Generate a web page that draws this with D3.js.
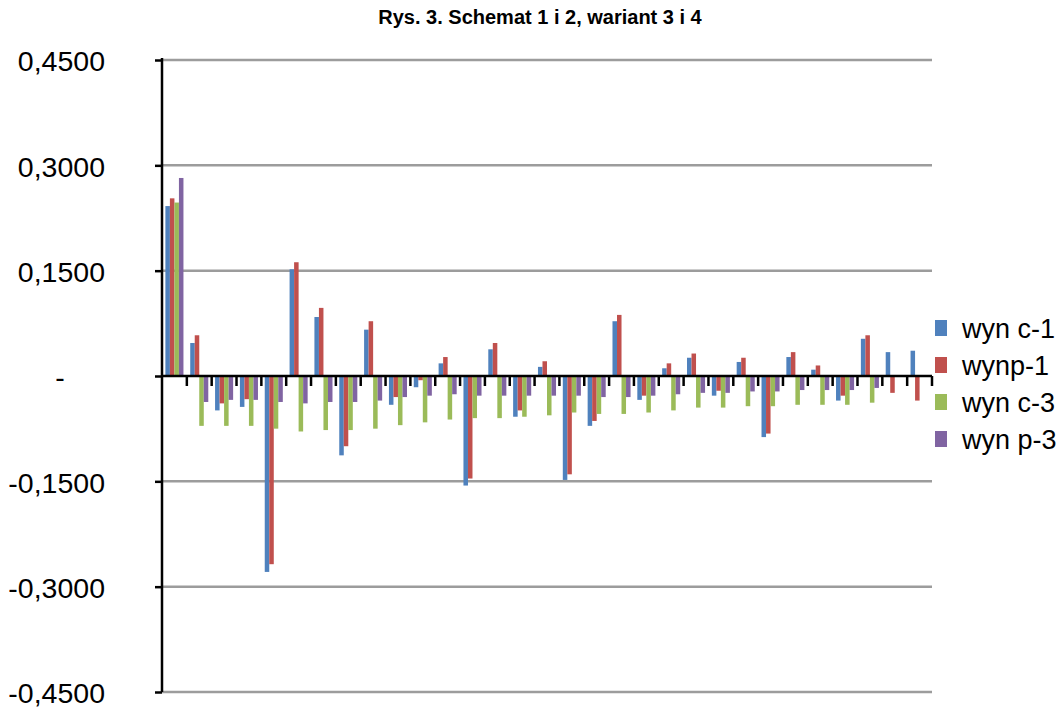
<!DOCTYPE html>
<html>
<head>
<meta charset="utf-8">
<script src="https://cdn.jsdelivr.net/npm/d3@7"></script>
<style>
  html, body { margin: 0; padding: 0; background: #fff; }
  svg { display: block; }
  text { font-family: "Liberation Sans", Arial, sans-serif; fill: #000; }
</style>
</head>
<body>
<svg id="chart" width="1064" height="709"></svg>
<script>
// Chart data
const title = "Rys. 3. Schemat 1 i 2, wariant 3 i 4";
const categories = ["1","2","3","4","5","6","7","8","9","10","11","12","13","14","15","16",
  "17","18","19","20","21","22","23","24","25","26","27","28","29","30","31"];
const seriesNames = ["wyn c-1", "wynp-1", "wyn c-3", "wyn p-3"];
const wynC1 = [0.242, 0.047, -0.049, -0.044, -0.279, 0.152, 0.084, -0.113, 0.066, -0.041,
  -0.016, 0.018, -0.156, 0.038, -0.058, 0.013, -0.148, -0.071, 0.078, -0.034,
  0.011, 0.026, -0.028, 0.020, -0.087, 0.027, 0.009, -0.035, 0.053, 0.034, 0.036];
const wynP1 = [0.253, 0.058, -0.039, -0.033, -0.268, 0.162, 0.097, -0.100, 0.078, -0.030,
  -0.006, 0.027, -0.146, 0.047, -0.049, 0.021, -0.140, -0.064, 0.087, -0.028,
  0.018, 0.032, -0.021, 0.026, -0.082, 0.034, 0.015, -0.028, 0.058, -0.024, -0.035];
const wynC3 = [0.247, -0.071, -0.071, -0.071, -0.075, -0.079, -0.077, -0.077, -0.075, -0.070,
  -0.066, -0.062, -0.060, -0.060, -0.058, -0.056, -0.052, -0.054, -0.054, -0.052,
  -0.049, -0.045, -0.045, -0.043, -0.043, -0.041, -0.041, -0.041, -0.038, null, null];
const wynP3 = [0.282, -0.037, -0.034, -0.034, -0.037, -0.039, -0.037, -0.037, -0.035, -0.030,
  -0.028, -0.026, -0.028, -0.028, -0.028, -0.028, -0.028, -0.030, -0.030, -0.028,
  -0.026, -0.024, -0.024, -0.022, -0.022, -0.020, -0.020, -0.020, -0.017, null, null];
const yTicks = [0.45, 0.30, 0.15, 0, -0.15, -0.30, -0.45];
const yTickLabels = ["0,4500", "0,3000", "0,1500", "-", "-0,1500", "-0,3000", "-0,4500"];
const colors = ["#4F81BD", "#C0504D", "#9BBB59", "#8064A2"];

const seriesValues = [wynC1, wynP1, wynC3, wynP3];

const svg = d3.select("#chart");
const plot = { left: 162, right: 932, top: 60, bottom: 692 };

const y = d3.scaleLinear().domain([-0.45, 0.45]).range([plot.bottom, plot.top]);
const gap = 1.5 / 5.5;
const x0 = d3.scaleBand().domain(categories).range([plot.left, plot.right])
  .paddingInner(gap).paddingOuter(gap / 2);
const x1 = d3.scaleBand().domain(seriesNames).range([0, x0.bandwidth()]);
const color = d3.scaleOrdinal().domain(seriesNames).range(colors);

// Title
svg.append("text")
  .attr("x", 540).attr("y", 24)
  .attr("text-anchor", "middle")
  .style("font-size", "20px").style("font-weight", "bold")
  .text(title);

// Horizontal gridlines
svg.append("g")
  .selectAll("line")
  .data(yTicks.filter(d => d !== 0))
  .join("line")
  .attr("x1", plot.left).attr("x2", plot.right)
  .attr("y1", d => y(d)).attr("y2", d => y(d))
  .attr("stroke", "#9c9c9c").attr("stroke-width", 2.5);

// Bars
const rows = categories.map((c, i) => ({
  cat: c,
  vals: seriesNames.map((s, k) => ({ key: s, value: seriesValues[k][i] }))
}));

svg.append("g")
  .selectAll("g")
  .data(rows)
  .join("g")
  .attr("transform", d => `translate(${x0(d.cat)},0)`)
  .selectAll("rect")
  .data(d => d.vals.filter(v => v.value !== null))
  .join("rect")
  .attr("x", d => x1(d.key))
  .attr("width", x1.bandwidth())
  .attr("y", d => y(Math.max(0, d.value)))
  .attr("height", d => Math.abs(y(d.value) - y(0)))
  .attr("fill", d => color(d.key));

// Y axis
const yAxis = d3.axisLeft(y)
  .tickValues(yTicks)
  .tickSize(7)
  .tickPadding(0)
  .tickFormat((d, i) => yTickLabels[i]);

const gy = svg.append("g")
  .attr("transform", `translate(${plot.left},0)`)
  .call(yAxis);
gy.select(".domain").attr("stroke", "#000").attr("stroke-width", 2.5)
  .attr("d", `M0,${plot.top - 2}V${plot.bottom}`);
gy.selectAll(".tick line").attr("stroke", "#000").attr("stroke-width", 2.5);
gy.selectAll(".tick text")
  .attr("x", -57)
  .attr("dy", "0.38em")
  .style("font-size", "28.5px")
  .style("font-family", "'Liberation Sans', Arial, sans-serif");
gy.selectAll(".tick").filter(d => d === 0).select("text")
  .attr("text-anchor", "middle")
  .attr("x", -102);

// X axis at zero with tick marks between categories
const gx = svg.append("g");
gx.append("line")
  .attr("x1", plot.left).attr("x2", plot.right)
  .attr("y1", y(0)).attr("y2", y(0))
  .attr("stroke", "#000").attr("stroke-width", 2.5);
gx.selectAll("line.tick")
  .data(categories)
  .join("line")
  .attr("class", "tick")
  .attr("x1", d => x0(d) - x0.step() * gap / 2 + x0.step())
  .attr("x2", d => x0(d) - x0.step() * gap / 2 + x0.step())
  .attr("y1", y(0)).attr("y2", y(0) + 10)
  .attr("stroke", "#000").attr("stroke-width", 2.5);

// Legend
const legend = svg.append("g")
  .selectAll("g")
  .data(seriesNames)
  .join("g")
  .attr("transform", (d, i) => `translate(935,${320 + i * 37})`);
legend.append("rect")
  .attr("width", 12).attr("height", 16)
  .attr("fill", d => color(d));
legend.append("text")
  .attr("x", 27).attr("y", 8)
  .attr("dy", "0.36em")
  .style("font-size", "27px")
  .text(d => d);
</script>
</body>
</html>
